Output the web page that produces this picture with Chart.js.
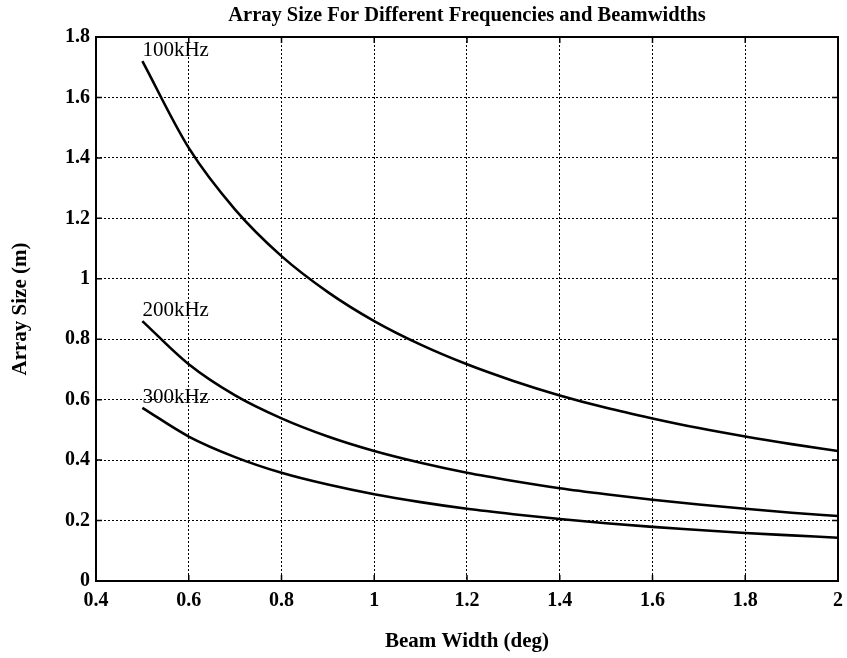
<!DOCTYPE html>
<html>
<head>
<meta charset="utf-8">
<script src="https://cdn.jsdelivr.net/npm/chart.js@4.4.1/dist/chart.umd.min.js"></script>
<style>
  html, body { margin: 0; padding: 0; background: #fff; }
  #wrap { width: 847px; height: 658px; }
</style>
</head>
<body>
<div id="wrap"><canvas id="c" width="847" height="658"></canvas></div>
<script>
// Beam width (deg) – x positions of the sampled points
const beamWidth = [0.5, 0.6, 0.7, 0.8, 0.9, 1.0, 1.1, 1.2, 1.3, 1.4, 1.5, 1.6, 1.7, 1.8, 1.9, 2.0];

// Array size (m)
const size100k = [1.72, 1.433, 1.229, 1.075, 0.956, 0.86, 0.782, 0.717, 0.662, 0.614, 0.573, 0.538, 0.506, 0.478, 0.453, 0.43];
const size200k = [0.86, 0.717, 0.614, 0.538, 0.478, 0.43, 0.391, 0.358, 0.331, 0.307, 0.287, 0.269, 0.253, 0.239, 0.226, 0.215];
const size300k = [0.573, 0.478, 0.41, 0.358, 0.319, 0.287, 0.261, 0.239, 0.221, 0.205, 0.191, 0.179, 0.169, 0.159, 0.151, 0.143];

const curveLabels = ['100kHz', '200kHz', '300kHz'];

const xTicks = [0.4, 0.6, 0.8, 1, 1.2, 1.4, 1.6, 1.8, 2];
const yTicks = [0, 0.2, 0.4, 0.6, 0.8, 1, 1.2, 1.4, 1.6, 1.8];

const TITLE = 'Array Size For Different Frequencies and Beamwidths';
const SERIF = '"Liberation Serif", "Times New Roman", serif';

function pts(ys) {
  return beamWidth.map((x, i) => ({ x, y: ys[i] }));
}

function curve(label, ys) {
  return {
    label,
    data: pts(ys),
    borderColor: '#000',
    borderWidth: 2.6,
    pointRadius: 0,
    fill: false,
    cubicInterpolationMode: 'monotone',
  };
}

// Box around the plot + short inward tick marks, and the title centred over the plot
const frame = {
  id: 'frame',
  afterDraw(chart) {
    const { ctx, chartArea: a, scales } = chart;
    ctx.save();
    ctx.strokeStyle = '#000';
    ctx.lineWidth = 1.5;
    const tl = 6;
    ctx.beginPath();
    xTicks.forEach(v => {
      const px = scales.x.getPixelForValue(v);
      ctx.moveTo(px, a.bottom); ctx.lineTo(px, a.bottom - tl);
      ctx.moveTo(px, a.top); ctx.lineTo(px, a.top + tl);
    });
    yTicks.forEach(v => {
      const py = scales.y.getPixelForValue(v);
      ctx.moveTo(a.left, py); ctx.lineTo(a.left + tl, py);
      ctx.moveTo(a.right, py); ctx.lineTo(a.right - tl, py);
    });
    ctx.stroke();
    ctx.lineWidth = 2;
    ctx.strokeRect(a.left, a.top, a.right - a.left, a.bottom - a.top);

    ctx.fillStyle = '#000';
    ctx.font = 'bold 20.5px ' + SERIF;
    ctx.textAlign = 'center';
    ctx.textBaseline = 'middle';
    ctx.fillText(TITLE, (a.left + a.right) / 2, a.top - 21);
    ctx.restore();
  }
};

// Curve names written just above the first point of each line
const curveNames = {
  id: 'curveNames',
  afterDatasetsDraw(chart) {
    const { ctx } = chart;
    ctx.save();
    ctx.fillStyle = '#000';
    ctx.font = '21px ' + SERIF;
    ctx.textAlign = 'left';
    ctx.textBaseline = 'alphabetic';
    chart.data.datasets.forEach((ds, i) => {
      const p = chart.getDatasetMeta(i).data[0];
      ctx.fillText(ds.label, p.x, p.y - 5);
    });
    ctx.restore();
  }
};

new Chart(document.getElementById('c'), {
  type: 'line',
  data: {
    datasets: [
      curve(curveLabels[0], size100k),
      curve(curveLabels[1], size200k),
      curve(curveLabels[2], size300k),
    ]
  },
  options: {
    responsive: false,
    animation: false,
    layout: { padding: { left: 0, right: 9, top: 37, bottom: 0 } },
    scales: {
      x: {
        type: 'linear',
        min: 0.4, max: 2,
        afterBuildTicks: s => { s.ticks = xTicks.map(v => ({ value: v })); },
        afterFit: s => { s.height = 77; s.paddingRight = 0; s.paddingLeft = 0; },
        grid: { color: '#000', lineWidth: 1, drawTicks: false },
        border: { display: false, dash: [2, 2] },
        ticks: { color: '#000', padding: 8, maxRotation: 0, callback: v => String(v),
                 font: { family: SERIF, size: 20, weight: 'bold' } },
        title: { display: true, text: 'Beam Width (deg)', color: '#000', padding: { top: 0, bottom: 4 },
                 font: { family: SERIF, size: 21, weight: 'bold' } }
      },
      y: {
        min: 0, max: 1.8,
        afterBuildTicks: s => { s.ticks = yTicks.map(v => ({ value: v })); },
        afterFit: s => { s.width = 96; },
        grid: { color: '#000', lineWidth: 1, drawTicks: false },
        border: { display: false, dash: [2, 2] },
        ticks: { color: '#000', padding: 6, callback: v => String(v),
                 font: { family: SERIF, size: 20, weight: 'bold' } },
        title: { display: true, text: 'Array Size (m)', color: '#000', padding: { top: 8, bottom: 0 },
                 font: { family: SERIF, size: 21, weight: 'bold' } }
      }
    },
    plugins: {
      legend: { display: false },
      tooltip: { enabled: false },
      title: { display: false }
    }
  },
  plugins: [frame, curveNames]
});
</script>
</body>
</html>
